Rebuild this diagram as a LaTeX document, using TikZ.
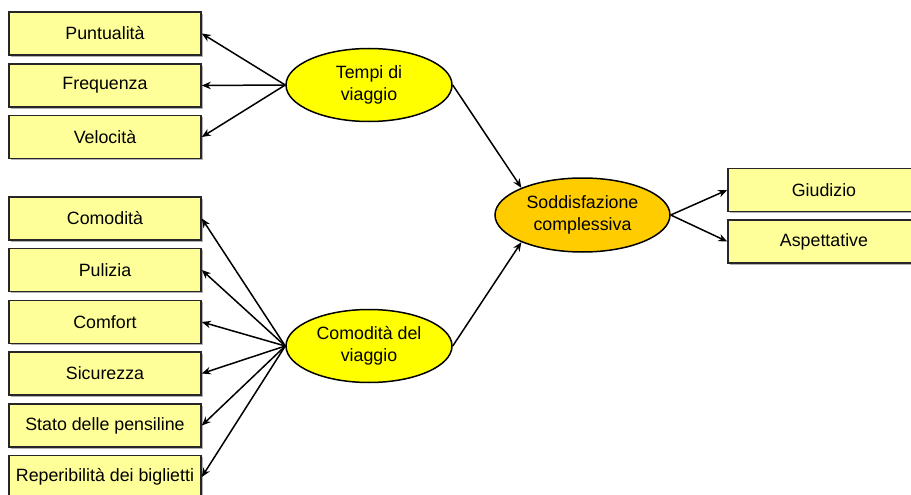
\documentclass[tikz,border=0pt]{standalone}
\usepackage{fontspec}
\setmainfont{Liberation Sans}
\usetikzlibrary{shapes.geometric,arrows.meta,shadows}
\definecolor{boxfill}{HTML}{FFFF99}
\definecolor{ellfill}{HTML}{FFFF00}
\definecolor{sodfill}{HTML}{FFCC00}
\begin{document}
\begin{tikzpicture}[x=1pt,y=-1pt,
  every node/.style={font=\fontsize{17.8}{22}\selectfont},
  indbox/.style={draw=black!85,line width=1.6pt,fill=boxfill,minimum width=192pt,minimum height=43pt,inner sep=0pt,
    drop shadow={shadow xshift=1.6pt,shadow yshift=-1.6pt,fill=black!30,opacity=1}},
  latent/.style={ellipse,draw=black,line width=1.5pt,fill=ellfill,minimum width=166pt,minimum height=73pt,inner sep=0pt,align=center},
  conn/.style={line width=1.5pt,-{Stealth[length=9pt,width=7.5pt]}}]
\useasboundingbox (0,0) rectangle (911,495);
% left boxes
\node[indbox] (pun) at (105,33.5) {Puntualità};
\node[indbox] (fre) at (105,85.5) {Frequenza};
\node[indbox] (vel) at (105,137) {Velocità};
\node[indbox] (com) at (105,218.5) {Comodità};
\node[indbox] (pul) at (105,270) {Pulizia};
\node[indbox] (cmf) at (105,322) {Comfort};
\node[indbox] (sic) at (105,373.5) {Sicurezza};
\node[indbox] (sta) at (105,425.5) {Stato delle pensiline};
\node[indbox] (rep) at (105,477) {Reperibilità dei biglietti};
% right boxes
\node[indbox] (giu) at (824,190) {Giudizio};
\node[indbox] (asp) at (824,241.5) {Aspettative};
% latent
\node[latent] (tv) at (369,85) {Tempi di\\viaggio};
\node[latent] (cv) at (369,346) {Comodità del\\viaggio};
\node[latent,fill=sodfill,minimum width=175pt,minimum height=74pt] (sod) at (582.5,215) {Soddisfazione\\complessiva};
% connectors
\foreach \t in {pun,fre,vel} \draw[conn] (tv.west) -- (\t.east);
\foreach \t in {com,pul,cmf,sic,sta,rep} \draw[conn] (cv.west) -- (\t.east);
\draw[conn] (tv.east) -- (sod.156);
\draw[conn] (cv.east) -- (sod.204);
\draw[conn] (sod.east) -- (giu.west);
\draw[conn] (sod.east) -- (asp.west);
\end{tikzpicture}
\end{document}
